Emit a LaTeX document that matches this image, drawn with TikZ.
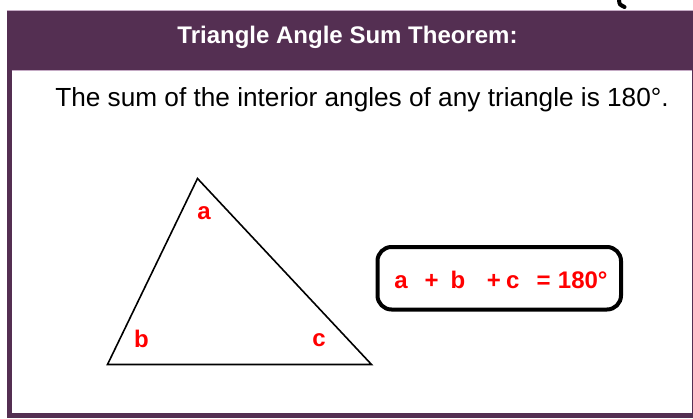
\documentclass[tikz,border=0pt]{standalone}
\usepackage{fontspec}
\setmainfont{Liberation Sans}
\usepackage{tikz}
\usetikzlibrary{
    calc
}

\definecolor{framepurple}{RGB}{84,47,82}
\definecolor{edgelilac}{RGB}{196,170,196}

\tikzset{
    anglelabel/.style={text=red, font=\fontsize{24}{26}\selectfont\bfseries, inner sep=0pt},
    sumbox/.style={draw=black, line width=4pt, rounded corners=14pt}
}

\begin{document}
\begin{tikzpicture}[x=1pt, y=-1pt]

\useasboundingbox (0,0) rectangle (693,418);

% Pen stroke at the top
\draw[line width=4pt, line cap=round] (619,0) .. controls (619.5,4.5) .. (624.5,7);

% Frame and header bar
\fill[framepurple] (6.5,10) rectangle (697,70);
\draw[edgelilac, line width=0.8pt] (6.5,10) -- (697,10);
\draw[framepurple, line width=5pt] (9,70) -- (9,415) -- (694.5,415) -- (694.5,70);
\draw[edgelilac, line width=0.8pt] (11.5,70.5) -- (692,70.5);

% Heading
\node[anchor=base, text=white, font=\fontsize{24}{26}\selectfont\bfseries, inner sep=0pt]
    (title) at (347.5,43.5) {Triangle Angle Sum Theorem:};

% Statement
\node[anchor=base, font=\fontsize{26.2}{29}\selectfont, inner sep=0pt]
    (statement) at (362,106) {The sum of the interior angles of any triangle is 180°.};

% Triangle
\coordinate (A) at (197.5,178.5);
\coordinate (B) at (107.5,364.5);
\coordinate (C) at (371.5,364.5);
\draw[line width=1.6pt, line join=miter] (A) -- (B) -- (C) -- cycle;

% Angle labels
\node[anglelabel] (la) at (204,213) {a};
\node[anglelabel] (lb) at (141.5,339) {b};
\node[anglelabel] (lc) at (319,340.5) {c};

% Sum box
\draw[sumbox] (377.5,247) rectangle (621,309.5);
\node[anchor=base, text=red, font=\fontsize{24}{26}\selectfont\bfseries, inner sep=0pt]
    (sum) at (501,288.5) {a\hspace{0.7em}+\hspace{0.5em}b\hspace{0.9em}+\hspace{0.22em}c\hspace{0.72em}=\hspace{0.3em}180°};

\end{tikzpicture}
\end{document}
